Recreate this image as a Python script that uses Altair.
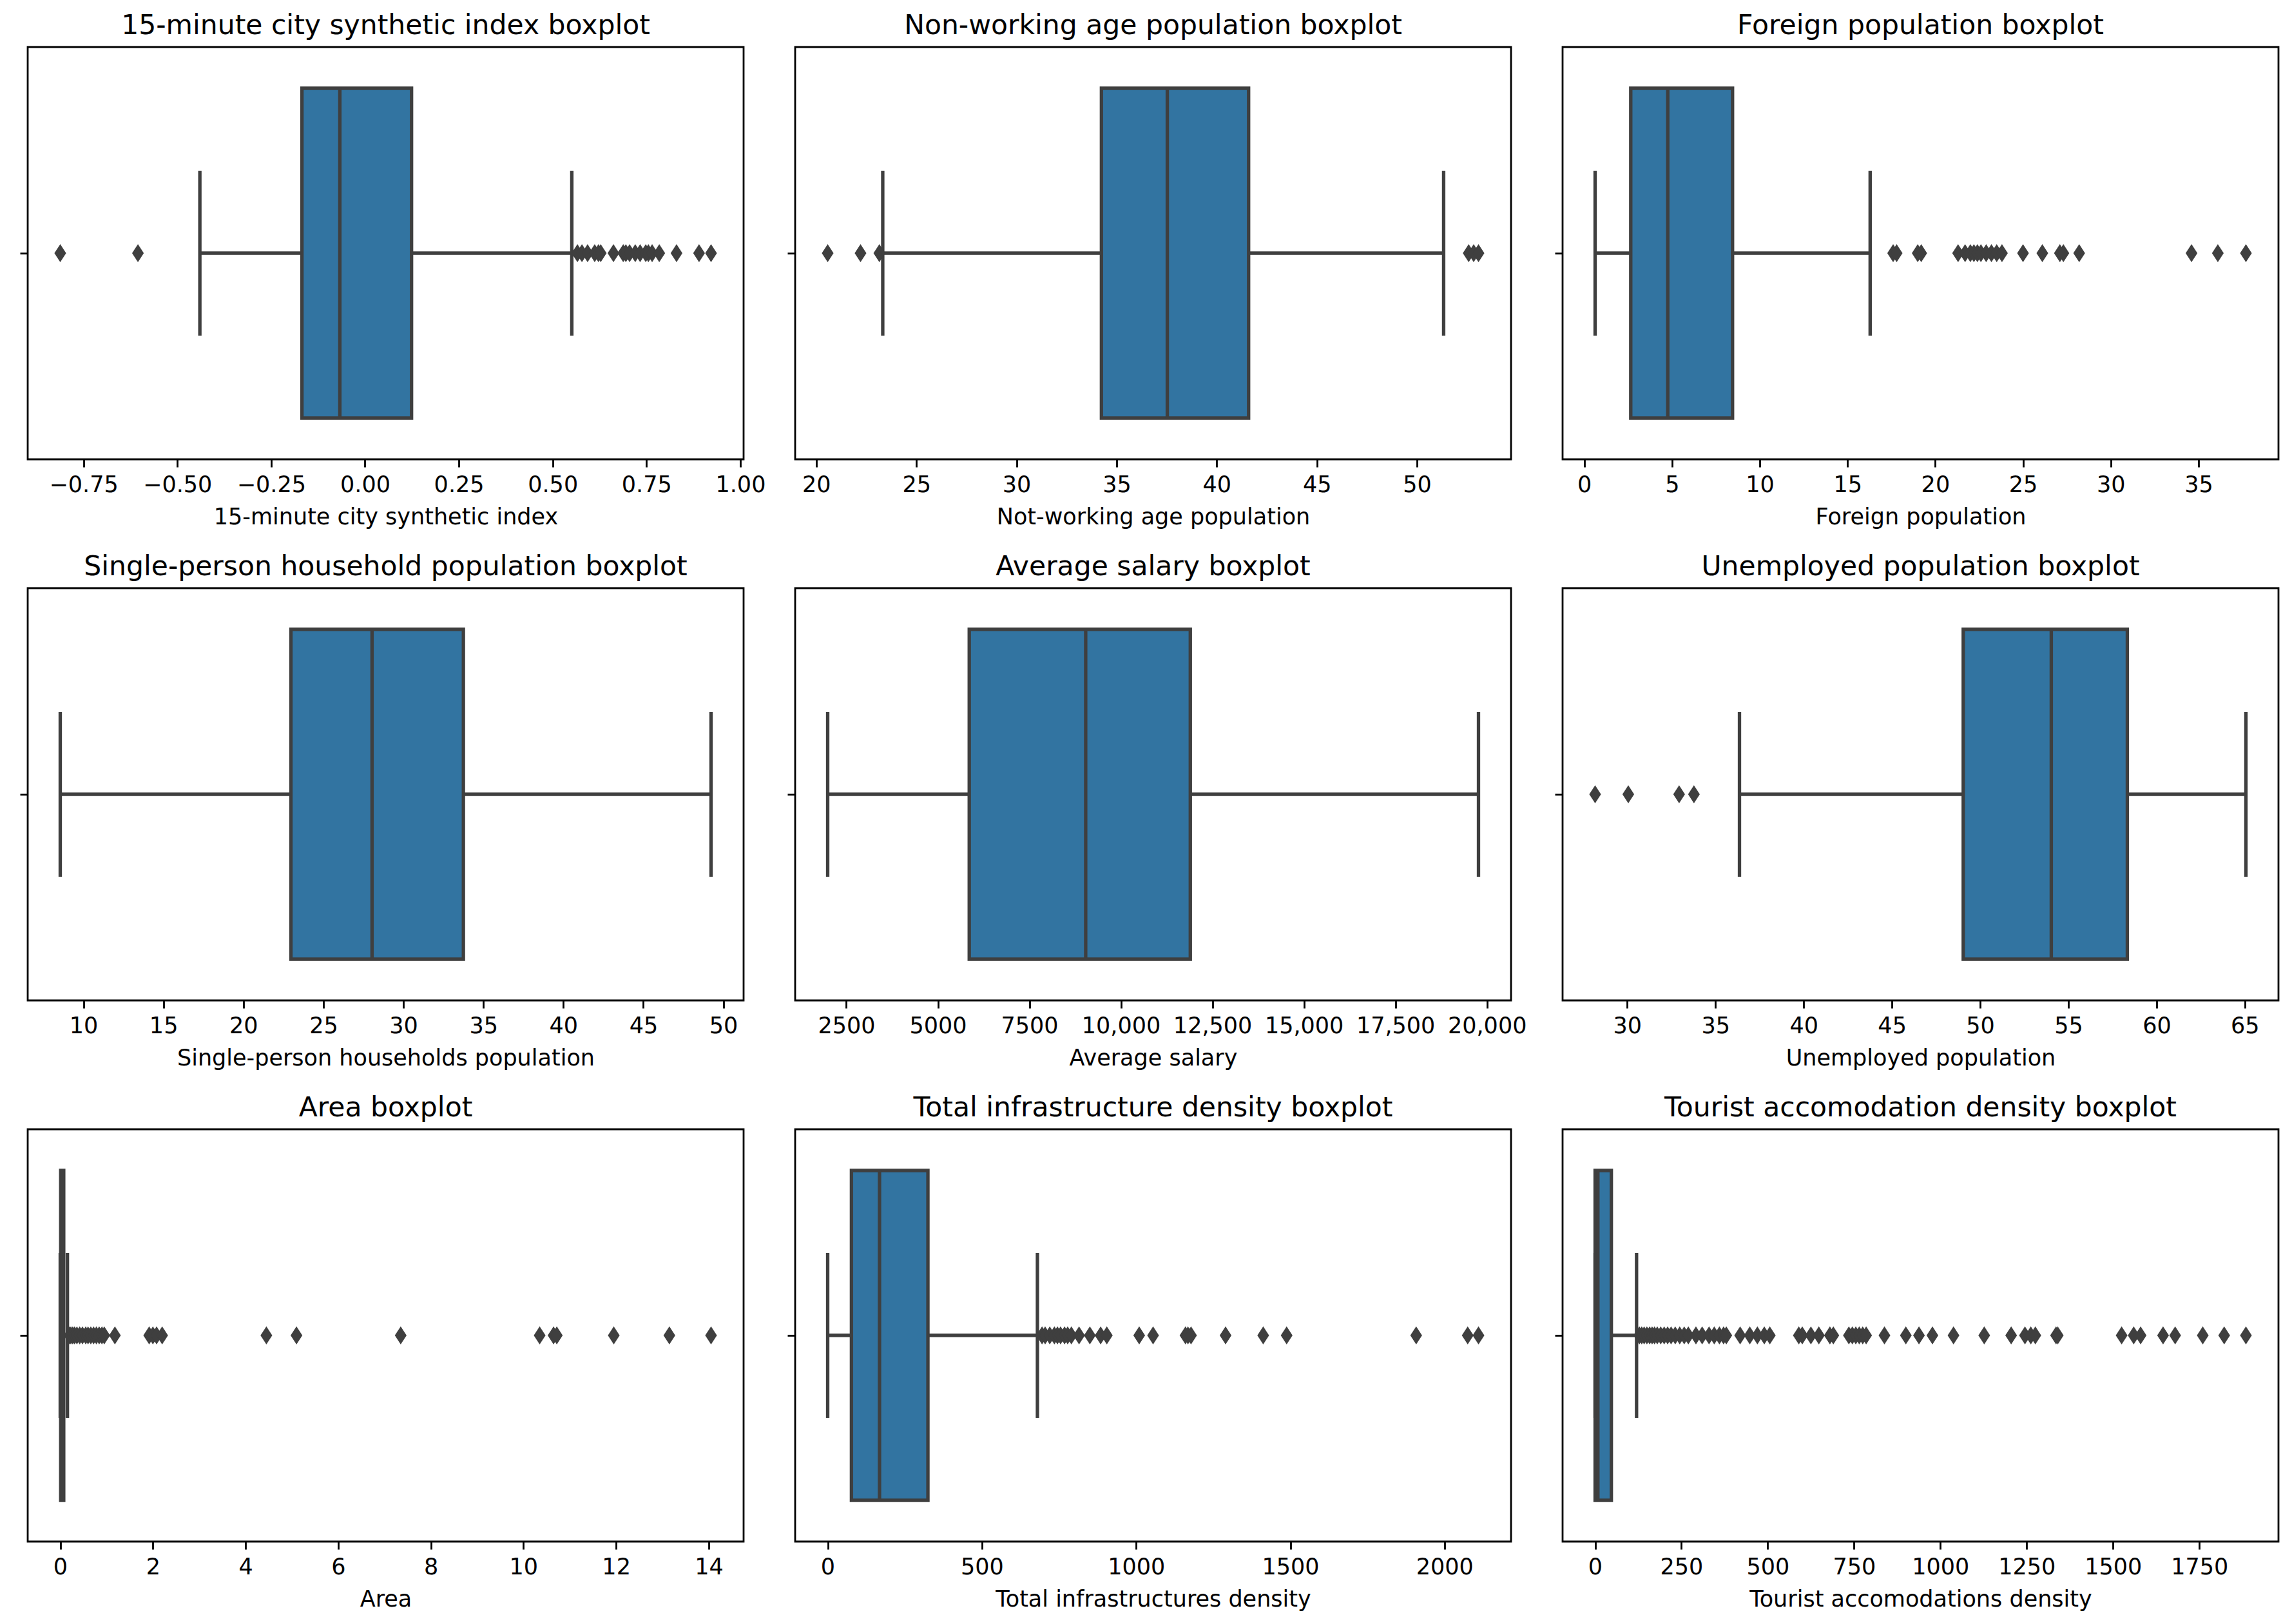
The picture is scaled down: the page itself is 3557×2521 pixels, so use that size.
import altair as alt
import pandas as pd

# ---------------- data ----------------
titles = [
    "15-minute city synthetic index boxplot",
    "Non-working age population boxplot",
    "Foreign population boxplot",
    "Single-person household population boxplot",
    "Average salary boxplot",
    "Unemployed population boxplot",
    "Area boxplot",
    "Total infrastructure density boxplot",
    "Tourist accomodation density boxplot",
]
xlabels = [
    "15-minute city synthetic index",
    "Not-working age population",
    "Foreign population",
    "Single-person households population",
    "Average salary",
    "Unemployed population",
    "Area",
    "Total infrastructures density",
    "Tourist accomodations density",
]
lower_whisker = [-0.44, 23.32, 0.62, 8.55, 1990, 36.36, 0.0, 0.0, 0.0]
q1 = [-0.168, 34.24, 2.65, 22.97, 5857, 49.04, 0.01, 77, 0]
median = [-0.067, 37.53, 4.76, 28.04, 9038, 54.03, 0.04, 168, 8]
q3 = [0.124, 41.59, 8.45, 33.75, 11896, 58.34, 0.075, 325, 47]
upper_whisker = [0.551, 51.33, 16.29, 49.23, 19768, 65.06, 0.155, 680, 120]

outliers = [
    [-0.812, -0.605, 0.566, 0.578, 0.593, 0.612, 0.622, 0.628, 0.662, 0.688,
     0.695, 0.705, 0.72, 0.733, 0.748, 0.755, 0.765, 0.784, 0.83, 0.89, 0.922],
    [20.57, 22.21, 23.15, 52.58, 52.83, 53.07],
    [17.6, 17.8, 19.0, 19.2, 21.3, 21.7, 22.0, 22.2, 22.4, 22.6, 22.9, 23.2,
     23.5, 23.8, 25.0, 26.1, 27.1, 27.3, 28.2, 34.6, 36.1, 37.7],
    [],
    [],
    [28.18, 30.06, 32.94, 33.78],
    [0.2, 0.23, 0.27, 0.31, 0.36, 0.42, 0.48, 0.55, 0.6, 0.66, 0.72, 0.78,
     0.84, 0.9, 0.95, 1.18, 1.92, 2.0, 2.08, 2.2, 4.45, 5.1, 7.35, 10.35,
     10.65, 10.72, 11.95, 13.15, 14.05],
    [695, 705, 720, 735, 745, 755, 768, 778, 790, 815, 850, 885, 905, 1010,
     1055, 1160, 1168, 1178, 1290, 1412, 1488, 1908, 2075, 2110],
    [128, 135, 142, 150, 158, 165, 172, 180, 190, 200, 210, 220, 232, 245,
     258, 270, 292, 310, 330, 345, 360, 372, 380, 420, 448, 470, 490, 506,
     590, 600, 625, 648, 680, 690, 735, 745, 755, 765, 775, 785, 838, 900,
     938, 977, 1038, 1127, 1205, 1245, 1262, 1275, 1335, 1340, 1525, 1560,
     1580, 1645, 1680, 1760, 1822, 1885],
]

tick_values = [
    [-0.75, -0.5, -0.25, 0.0, 0.25, 0.5, 0.75, 1.0],
    [20, 25, 30, 35, 40, 45, 50],
    [0, 5, 10, 15, 20, 25, 30, 35],
    [10, 15, 20, 25, 30, 35, 40, 45, 50],
    [2500, 5000, 7500, 10000, 12500, 15000, 17500, 20000],
    [30, 35, 40, 45, 50, 55, 60, 65],
    [0, 2, 4, 6, 8, 10, 12, 14],
    [0, 500, 1000, 1500, 2000],
    [0, 250, 500, 750, 1000, 1250, 1500, 1750],
]
tick_formats = [".2f", "d", "d", "d", None, "d", "d", "d", "d"]

# ---------------- styling ----------------
FONT = "DejaVu Sans"
BOX_FILL = "#3274a1"
LINE = "#3f3f3f"
W, H = 1111, 640
LW = 5.3
DIAMOND = "M0,-1L0.65,0L0,1L-0.65,0Z"


def panel(i):
    vals = [lower_whisker[i], upper_whisker[i]] + list(outliers[i])
    lo, hi = min(vals), max(vals)
    pad = 0.05 * (hi - lo)
    xscale = alt.Scale(domain=[lo - pad, hi + pad], nice=False, zero=False)
    yscale = alt.Scale(domain=[-0.5, 0.5], nice=False, zero=False)

    if tick_formats[i] is None:
        xaxis = alt.Axis(
            values=tick_values[i], title=xlabels[i],
            labelExpr="datum.value >= 10000 ? format(datum.value, ',') : format(datum.value, 'd')",
        )
    else:
        xaxis = alt.Axis(values=tick_values[i], format=tick_formats[i], title=xlabels[i])
    yaxis = alt.Axis(values=[0], labels=False, title=None, domain=False, grid=False)

    def X(field):
        return alt.X(field, type="quantitative", scale=xscale, axis=xaxis)

    def Yd(v):
        return alt.YDatum(v, type="quantitative", scale=yscale, axis=yaxis)

    stats = pd.DataFrame({
        "lo": [lower_whisker[i]], "q1": [q1[i]], "med": [median[i]],
        "q3": [q3[i]], "hi": [upper_whisker[i]],
    })
    base = alt.Chart(stats)

    whisk = base.mark_rule(color=LINE, strokeWidth=LW).encode(
        x=X("lo"), x2=alt.X2("hi"), y=Yd(0)
    )
    caps = base.transform_fold(["lo", "hi"], as_=["k", "w"]).mark_rule(
        color=LINE, strokeWidth=LW
    ).encode(x=X("w"), y=Yd(-0.2), y2=alt.Y2Datum(0.2))
    box = base.mark_rect(fill=BOX_FILL, stroke=LINE, strokeWidth=LW).encode(
        x=X("q1"), x2=alt.X2("q3"), y=Yd(-0.4), y2=alt.Y2Datum(0.4)
    )
    med = base.mark_rule(color=LINE, strokeWidth=LW).encode(
        x=X("med"), y=Yd(-0.4), y2=alt.Y2Datum(0.4)
    )
    layers = [whisk, caps, box, med]
    if outliers[i]:
        pts = alt.Chart(pd.DataFrame({"v": outliers[i]})).mark_point(
            shape=DIAMOND, filled=True, size=784, color=LINE, opacity=1, strokeWidth=0
        ).encode(x=X("v"), y=Yd(0))
        layers.append(pts)

    return alt.layer(*layers).properties(
        width=W, height=H,
        title=alt.TitleParams(
            text=titles[i], fontSize=42.5, font=FONT, fontWeight="normal",
            color="black", offset=-22, baseline="alphabetic", frame="group",
            anchor="middle",
        ),
    )


chart = alt.concat(
    *[panel(i) for i in range(9)], columns=3,
    spacing={"row": 200, "column": 80}, bounds="flush",
).properties(
    padding={"left": 20, "top": 9, "right": 5, "bottom": 5}
).configure(font=FONT).configure_view(
    stroke="black", strokeWidth=2.8
).configure_axis(
    grid=False, domain=False, tickColor="black", tickWidth=2.8, tickSize=12,
    labelFont=FONT, labelFontSize=35, labelColor="black", labelPadding=10,
    labelFlush=False, labelOverlap=False, labelBound=False,
    titleFont=FONT, titleFontSize=35, titleFontWeight="normal",
    titleColor="black", titlePadding=15,
)

chart.save("out.html", embed_options={"renderer": "svg", "actions": False})
